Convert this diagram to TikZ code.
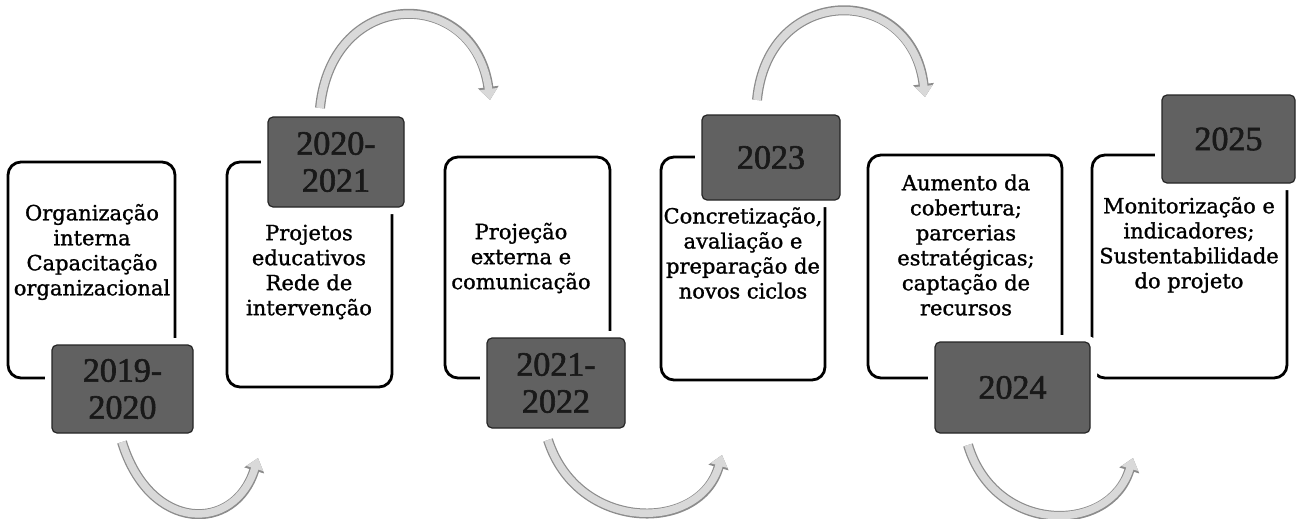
\documentclass[tikz,border=0pt]{standalone}
\usepackage{fontspec}
\setmainfont[FakeBold=1.2]{DejaVu Serif}
\newfontfamily\yearfont[FakeBold=1.8]{Liberation Serif}
\usetikzlibrary{arrows.meta}
\begin{document}
\begin{tikzpicture}[x=1pt,y=-1pt,
  box/.style={draw=black, line width=2.8pt, rounded corners=13pt, inner sep=0pt},
  badge/.style={fill=black!62, draw=black!85, line width=1.2pt, rounded corners=5pt, inner sep=0pt,
    font=\yearfont\fontsize{34}{37}\selectfont, text=black!90, align=center,
    preaction={draw=white, line width=14pt}},
  desc/.style={align=center, font=\fontsize{21}{25}\selectfont\addfontfeature{FakeBold=1.2}, text=black},
  flow/.style={line width=7.5pt, draw=black!15, -{Triangle[length=11pt,width=17pt]},
    preaction={draw=black!45, line width=10pt, -{Triangle[length=13pt,width=20pt]}}}
]
\useasboundingbox (0,0) rectangle (1301,519);

% boxes
\node[box, minimum width=167pt, minimum height=216pt] (b1) at (91.5,270) {};
\node[box, minimum width=165pt, minimum height=225pt] (b2) at (309.5,274.5) {};
\node[box, minimum width=165pt, minimum height=221pt] (b3) at (527.5,267.5) {};
\node[box, minimum width=164pt, minimum height=223pt] (b4) at (743,268.5) {};
\node[box, minimum width=194pt, minimum height=223pt] (b5) at (965,266.5) {};
\node[box, minimum width=195pt, minimum height=223pt] (b6) at (1189.5,266.5) {};

% texts
\node[desc] (t1) at (92,252) {Organização\\interna\\Capacitação\\organizacional};
\node[desc] (t2) at (309,272) {Projetos\\educativos\\Rede de\\intervenção};
\node[desc] (t3) at (521,258) {Projeção\\externa e\\comunicação};
\node[desc] (t4) at (743,253) {Concretização,\\avaliação e\\preparação de\\novos ciclos};
\node[desc] (t5) at (966,245) {Aumento da\\cobertura;\\parcerias\\estratégicas;\\captação de\\recursos};
\node[desc] (t6) at (1189,245) {Monitorização e\\indicadores;\\Sustentabilidade\\do projeto};

% year badges
\node[badge, minimum width=141pt, minimum height=88pt] (y1) at (122.5,389) {2019-\\2020};
\node[badge, minimum width=136pt, minimum height=90pt] (y2) at (336,162) {2020-\\2021};
\node[badge, minimum width=138pt, minimum height=90pt] (y3) at (556,383) {2021-\\2022};
\node[badge, minimum width=138pt, minimum height=85pt] (y4) at (771,157.5) {2023};
\node[badge, minimum width=155pt, minimum height=91pt] (y5) at (1012.5,387.5) {2024};
\node[badge, minimum width=133pt, minimum height=88pt] (y6) at (1228.5,139) {2025};

% arrow end points
\coordinate (s1) at (122,442); \coordinate (e1) at (258,458);
\coordinate (s2) at (320,108); \coordinate (e2) at (490,100);
\coordinate (s3) at (548,440); \coordinate (e3) at (722,455);
\coordinate (s4) at (757,100); \coordinate (e4) at (925,97);
\coordinate (s5) at (968,445); \coordinate (e5) at (1133,458);

\draw[flow] (s1) .. controls (150,533) and (235,533) .. (e1);
\draw[flow] (s2) .. controls (332,-14) and (475,-14) .. (e2);
\draw[flow] (s3) .. controls (578,533) and (700,533) .. (e3);
\draw[flow] (s4) .. controls (768,-17) and (912,-17) .. (e4);
\draw[flow] (s5) .. controls (995,535) and (1110,535) .. (e5);
\end{tikzpicture}
\end{document}
